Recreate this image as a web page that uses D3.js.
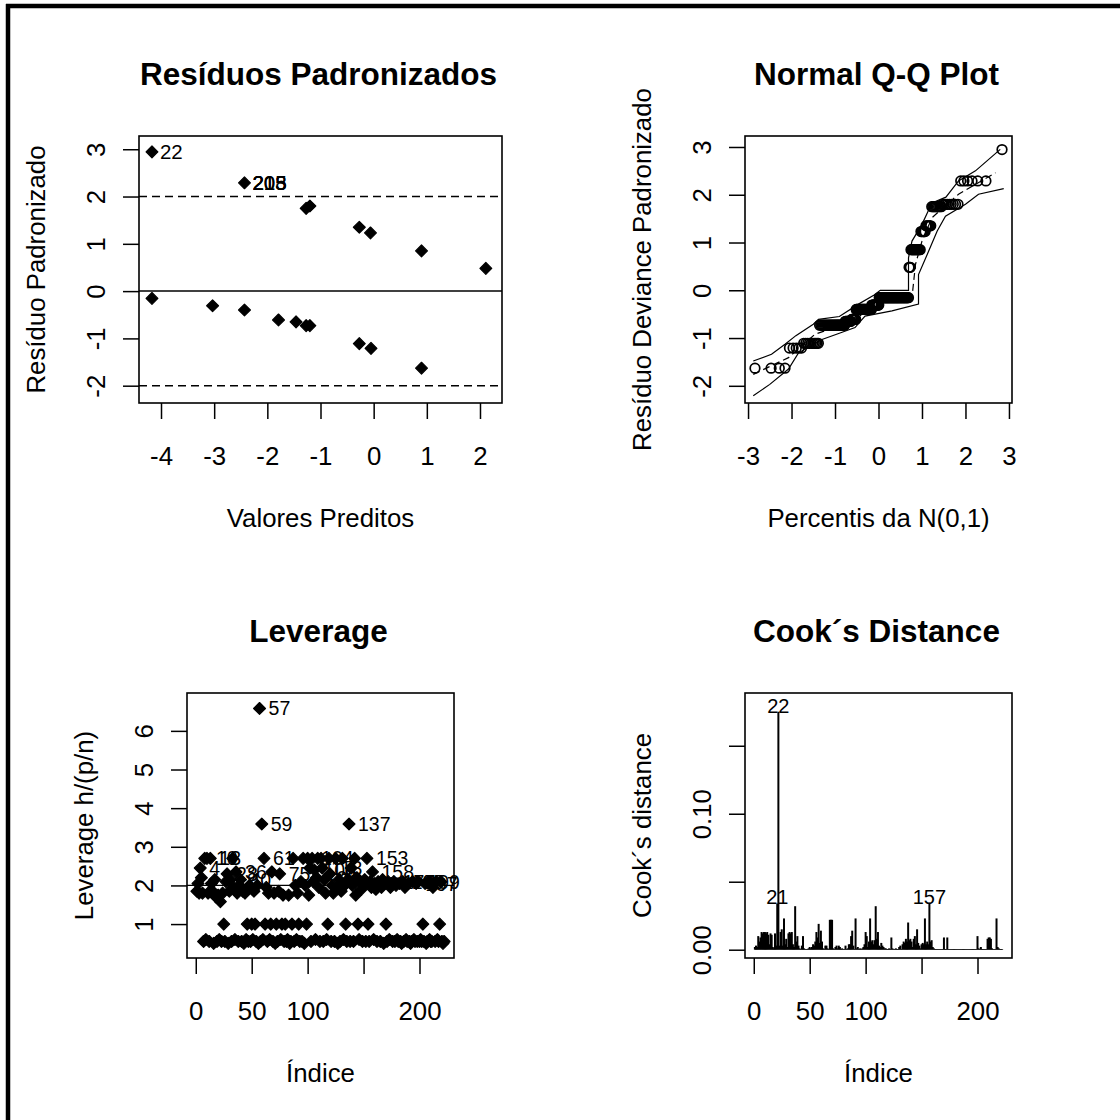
<!DOCTYPE html>
<html>
<head>
<meta charset="utf-8">
<script src="https://cdn.jsdelivr.net/npm/d3@7"></script>
<style>
  body { margin: 0; background: #fff; }
  text { font-family: "Liberation Sans", Arial, sans-serif; fill: #000; }
</style>
</head>
<body>
<svg id="chart" width="1120" height="1120"></svg>
<script>
// ---- panel 1: standardized residuals vs fitted values
const fittedVals = [-4.17, -2.43, -1.27, -1.20, -0.27, -0.06, 0.90, 2.11,
                    -4.17, -3.03, -2.43, -1.79, -1.46, -1.27, -1.20, -0.27, -0.05, 0.90];
const residVals  = [2.945, 2.29, 1.75, 1.80, 1.35, 1.23, 0.85, 0.48,
                    -0.155, -0.31, -0.40, -0.61, -0.65, -0.73, -0.73, -1.11, -1.21, -1.63];
const residLabelPoint = [0, 1, 1, 1, 1];
const residLabelText  = ["22", "203", "205", "215", "218"];

// ---- panel 2: normal Q-Q with simulated envelope (n = 222)
const qqLevels = [-1.63, -1.21, -1.11, -0.73, -0.65, -0.61, -0.40, -0.31, -0.155,
                  0.48, 0.85, 1.23, 1.35, 1.75, 1.80, 2.29, 2.945];
const qqCounts = [4, 5, 10, 30, 10, 8, 30, 15, 56, 3, 14, 6, 6, 9, 9, 6, 1];
const envUpper = [[-2.88,-1.48],[-2.46,-1.34],[-2.15,-1.13],[-1.9,-0.95],[-1.5,-0.71],[-1.38,-0.61],
                  [-0.9,-0.55],[-0.46,-0.29],[-0.1,-0.1],[0.04,0.0],[0.69,0.0],[0.69,0.68],[0.77,1.03],
                  [1.0,1.38],[1.23,1.83],[1.55,1.95],[1.84,2.29],[2.23,2.5],[2.8,2.95]];
const envMedian = [[-2.88,-1.76],[-2.07,-1.41],[-1.46,-0.92],[-0.54,-0.64],[-0.23,-0.36],[0.3,-0.2],
                   [0.77,-0.15],[0.81,0.19],[0.85,0.54],[1.0,1.03],[1.23,1.52],[1.84,2.01],[2.69,2.46]];
const envLower = [[-2.88,-2.21],[-2.5,-1.97],[-2.07,-1.65],[-1.84,-1.31],[-1.3,-1.03],[-0.9,-0.9],
                  [-0.54,-0.78],[-0.31,-0.54],[0.31,-0.43],[0.92,-0.29],[0.92,0.33],[1.12,0.75],
                  [1.35,1.24],[1.54,1.55],[2.0,1.8],[2.3,2.01],[2.88,2.13]];

// ---- panel 3: leverage h/(p/n) by index 1..222
const leverage = [
  1.85, 2.05, 1.8, 2.45, 2.2, 1.8, 0.55, 2.7, 0.6, 2.7,
  1.8, 0.55, 2.7, 2.05, 1.85, 0.5, 2.15, 1.7, 0.55, 1.75,
  0.6, 1.58, 0.55, 1.8, 1.0, 0.55, 2.1, 2.3, 0.5, 1.85,
  2.15, 0.55, 2.7, 1.95, 0.6, 2.35, 1.8, 0.55, 2.0, 2.15,
  0.55, 1.85, 0.5, 1.8, 0.6, 1.0, 0.55, 2.0, 0.55, 1.0,
  0.6, 1.85, 1.0, 0.55, 2.0, 0.5, 6.58, 0.55, 3.59, 0.6,
  2.7, 1.0, 1.95, 0.55, 1.8, 0.6, 1.0, 2.35, 0.55, 1.8,
  0.5, 1.0, 0.55, 1.85, 2.3, 0.6, 1.0, 1.75, 0.55, 1.0,
  0.55, 0.6, 1.75, 0.5, 0.55, 1.0, 2.7, 0.55, 2.0, 0.6,
  1.8, 1.0, 0.55, 2.1, 0.55, 2.7, 0.5, 2.0, 1.0, 2.7,
  1.75, 2.45, 0.55, 2.7, 2.1, 2.4, 0.6, 2.2, 2.7, 1.95,
  0.55, 2.7, 2.45, 0.55, 2.15, 1.8, 0.6, 1.0, 2.7, 2.3,
  0.55, 2.0, 1.8, 0.55, 2.7, 1.95, 0.5, 2.15, 0.55, 1.85,
  2.7, 0.6, 2.0, 1.0, 0.55, 2.15, 3.59, 0.55, 2.45, 2.0,
  0.55, 2.7, 1.75, 2.2, 1.0, 0.6, 2.1, 1.9, 0.55, 2.0,
  2.15, 0.55, 2.7, 1.0, 0.55, 2.1, 1.95, 2.35, 0.6, 2.05,
  1.9, 0.55, 2.1, 2.0, 0.55, 1.95, 2.15, 0.5, 2.05, 1.0,
  0.55, 2.1, 0.6, 1.95, 2.05, 0.55, 2.1, 0.55, 2.0, 0.6,
  0.55, 2.05, 0.55, 0.5, 2.1, 0.55, 1.95, 0.6, 0.55, 2.05,
  0.55, 0.5, 0.55, 2.1, 0.6, 0.55, 2.05, 0.55, 2.1, 0.55,
  0.6, 0.55, 1.0, 0.55, 2.05, 0.5, 0.55, 2.1, 0.6, 0.55,
  0.55, 1.95, 2.05, 0.55, 2.1, 0.6, 0.55, 1.0, 2.1, 0.55,
  0.5, 0.55
];
const levLabelIdx = [4, 10, 13, 28, 36, 40, 57, 59, 61, 75, 104, 106, 108, 113,
                     137, 153, 158, 177, 185, 197, 199];

// ---- panel 4: Cook's distance by index 1..222
const cooks = [
  0.002, 0.003, 0.002, 0.010, 0.006, 0.009, 0.013, 0.012, 0.013, 0.013,
  0.012, 0.013, 0.011, 0.004, 0.012, 0.011, 0.002, 0.001, 0.012, 0.003,
  0.034, 0.175, 0.003, 0.013, 0.015, 0.003, 0.023, 0.004, 0.008, 0.002,
  0.012, 0.013, 0.012, 0.013, 0.004, 0.002, 0.032, 0.006, 0.010, 0.003,
  0.001, 0.0005, 0.003, 0.010, 0.001, 0.0005, 0.0005, 0.0005, 0.001, 0.002,
  0.001, 0.002, 0.004, 0.003, 0.006, 0.013, 0.009, 0.019, 0.005, 0.014,
  0.006, 0.001, 0.0005, 0.003, 0.003, 0.001, 0.0005, 0.022, 0.022, 0.022,
  0.001, 0.0005, 0.002, 0.003, 0.001, 0.003, 0.002, 0.0005, 0.001, 0.0005,
  0.0005, 0.003, 0.0005, 0.001, 0.004, 0.004, 0.010, 0.014, 0.003, 0.0005,
  0.023, 0.001, 0.002, 0.0005, 0.001, 0.0005, 0.001, 0.002, 0.004, 0.013,
  0.010, 0.002, 0.006, 0.023, 0.006, 0.007, 0.004, 0.007, 0.032, 0.008,
  0.013, 0.003, 0.002, 0.005, 0.003, 0.002, 0.001, 0.001, 0.0005, 0.0005,
  0.001, 0.0005, 0.009, 0.001, 0.0005, 0.0005, 0.001, 0.0005, 0.0005, 0.002,
  0.003, 0.0005, 0.004, 0.006, 0.005, 0.008, 0.006, 0.020, 0.007, 0.008,
  0.006, 0.002, 0.008, 0.010, 0.004, 0.015, 0.005, 0.003, 0.001, 0.004,
  0.005, 0.004, 0.023, 0.004, 0.006, 0.004, 0.0345, 0.006, 0.007, 0.002,
  0.001, 0.0005, 0.0005, 0.0005, 0.0005, 0.0005, 0.0005, 0.0005, 0.0005, 0.009,
  0.0005, 0.0005, 0.009, 0.0005, 0.0005, 0.0005, 0.0005, 0.0005, 0.0005, 0.0005,
  0.0005, 0.0005, 0.0005, 0.0005, 0.0005, 0.0005, 0.0005, 0.0005, 0.0005, 0.0005,
  0.0005, 0.0005, 0.0005, 0.0005, 0.0005, 0.0005, 0.0005, 0.0005, 0.0005, 0.010,
  0.001, 0.0005, 0.002, 0.0005, 0.0005, 0.0005, 0.0005, 0.0005, 0.008, 0.009,
  0.009, 0.008, 0.001, 0.0005, 0.0005, 0.0005, 0.023, 0.002, 0.001, 0.0005,
  0.0005, 0.0005
];
const cookLabelIdx = [21, 22, 157];

const FONT = 25.8;
const svg = d3.select("#chart");

// outer frame (only left and top edges visible in the reference)
svg.append("line").attr("x1", 8).attr("x2", 8).attr("y1", 4).attr("y2", 1120)
  .attr("stroke", "#000").attr("stroke-width", 4.5);
svg.append("line").attr("x1", 6).attr("x2", 1120).attr("y1", 6).attr("y2", 6)
  .attr("stroke", "#000").attr("stroke-width", 4.5);

const diamond = {
  draw(ctx, size) {
    const r = Math.sqrt(size / 2);
    ctx.moveTo(0, -r); ctx.lineTo(r, 0); ctx.lineTo(0, r); ctx.lineTo(-r, 0); ctx.closePath();
  }
};
const diamondPath = d3.symbol().type(diamond).size(70)();

function frame(box, x, y, opt) {
  const gx = svg.append("g").attr("transform", `translate(0,${box.y1})`)
    .call(d3.axisBottom(x).tickValues(opt.xt).tickFormat((d, i) => opt.xl[i])
      .tickSizeInner(16).tickSizeOuter(0).tickPadding(28));
  gx.select(".domain").remove();
  gx.attr("font-size", FONT).attr("font-family", null);
  gx.selectAll("line").attr("stroke-width", 1.5);

  const gy = svg.append("g").attr("transform", `translate(${box.x0},0)`)
    .call(d3.axisLeft(y).tickValues(opt.yt).tickFormat((d, i) => opt.yl[i])
      .tickSizeInner(16).tickSizeOuter(0));
  gy.select(".domain").remove();
  gy.attr("font-size", FONT).attr("font-family", null);
  gy.selectAll("line").attr("stroke-width", 1.5);
  gy.selectAll("text").attr("transform", "rotate(-90)").attr("x", 0).attr("y", -34)
    .attr("dy", null).attr("text-anchor", "middle");

  svg.append("rect").attr("x", box.x0).attr("y", box.y0)
    .attr("width", box.x1 - box.x0).attr("height", box.y1 - box.y0)
    .attr("fill", "none").attr("stroke", "#000").attr("stroke-width", 1.6);

  const cx = (box.x0 + box.x1) / 2, cy = (box.y0 + box.y1) / 2;
  svg.append("text").attr("x", cx - 2).attr("y", box.y0 - 51).attr("text-anchor", "middle")
    .attr("font-size", 31.5).attr("font-weight", "bold").text(opt.title);
  svg.append("text").attr("x", cx).attr("y", box.y1 + 124).attr("text-anchor", "middle")
    .attr("font-size", FONT).text(opt.xTitle);
  svg.append("text").attr("transform", `translate(${box.x0 - 94},${cy}) rotate(-90)`)
    .attr("text-anchor", "middle").attr("font-size", FONT).text(opt.yTitle);
}

function diamonds(g, data, px, py) {
  g.selectAll("path.pt").data(data).enter().append("path")
    .attr("class", "pt")
    .attr("d", diamondPath)
    .attr("transform", (d, i) => `translate(${px(d, i)},${py(d, i)})`)
    .attr("fill", "#000").attr("stroke", "#000").attr("stroke-width", 1.2)
    .attr("stroke-linejoin", "round");
}

// ================= Panel 1 =================
{
  const box = {x0: 139, x1: 502, y0: 136, y1: 403};
  const x = d3.scaleLinear().domain([-4.414, 2.414]).range([box.x0, box.x1]);
  const y = d3.scaleLinear().domain([-2.366, 3.28]).range([box.y1, box.y0]);
  const g = svg.append("g");
  g.append("line").attr("x1", box.x0).attr("x2", box.x1).attr("y1", y(0)).attr("y2", y(0))
    .attr("stroke", "#000").attr("stroke-width", 1.5);
  [2, -2].forEach(v => {
    g.append("line").attr("x1", box.x0).attr("x2", box.x1).attr("y1", y(v)).attr("y2", y(v))
      .attr("stroke", "#000").attr("stroke-width", 1.6).attr("stroke-dasharray", "8,5");
  });
  diamonds(g, fittedVals, d => x(d), (d, i) => y(residVals[i]));
  g.selectAll("text.lbl").data(residLabelPoint).enter().append("text")
    .attr("x", d => x(fittedVals[d]) + 8).attr("y", d => y(residVals[d]))
    .attr("dy", "0.36em").attr("font-size", 20.5)
    .text((d, i) => residLabelText[i]);
  frame(box, x, y, {
    xt: [-4, -3, -2, -1, 0, 1, 2], xl: ["-4", "-3", "-2", "-1", "0", "1", "2"],
    yt: [-2, -1, 0, 1, 2, 3], yl: ["-2", "-1", "0", "1", "2", "3"],
    title: "Resíduos Padronizados", xTitle: "Valores Preditos", yTitle: "Resíduo Padronizado"
  });
}

// ================= Panel 2 =================
function qnorm(p) {
  const a = [-39.69683028665376, 220.9460984245205, -275.9285104469687, 138.3577518672690, -30.66479806614716, 2.506628277459239];
  const b = [-54.47609879822406, 161.5858368580409, -155.6989798598866, 66.80131188771082, -13.28068155288572];
  const c = [-0.007784894002430293, -0.3223964580411365, -2.400758277161838, -2.549732539343734, 4.374664141464968, 2.938163982698783];
  const d = [0.007784695709041462, 0.3224671290700398, 2.445134137142996, 3.754408661907416];
  const pl = 0.02425;
  if (p < pl) {
    const q = Math.sqrt(-2 * Math.log(p));
    return (((((c[0]*q+c[1])*q+c[2])*q+c[3])*q+c[4])*q+c[5]) / ((((d[0]*q+d[1])*q+d[2])*q+d[3])*q+1);
  }
  if (p > 1 - pl) {
    const q = Math.sqrt(-2 * Math.log(1 - p));
    return -(((((c[0]*q+c[1])*q+c[2])*q+c[3])*q+c[4])*q+c[5]) / ((((d[0]*q+d[1])*q+d[2])*q+d[3])*q+1);
  }
  const q = p - 0.5, r = q * q;
  return (((((a[0]*r+a[1])*r+a[2])*r+a[3])*r+a[4])*r+a[5])*q / (((((b[0]*r+b[1])*r+b[2])*r+b[3])*r+b[4])*r+1);
}
{
  const box = {x0: 745, x1: 1012, y0: 136, y1: 403};
  const x = d3.scaleLinear().domain([-3.07, 3.07]).range([box.x0, box.x1]);
  const y = d3.scaleLinear().domain([-2.36, 3.23]).range([box.y1, box.y0]);
  // sorted residuals against normal quantiles (ppoints)
  const sorted = [];
  qqLevels.forEach((v, k) => { for (let j = 0; j < qqCounts[k]; j++) sorted.push(v); });
  const n = sorted.length;
  const qq = sorted.map((v, i) => ({q: qnorm((i + 0.5) / n), r: v}));
  const g = svg.append("g");
  const line = d3.line().x(d => x(d[0])).y(d => y(d[1]));
  g.append("path").datum(envUpper).attr("d", line).attr("fill", "none").attr("stroke", "#000").attr("stroke-width", 1.2);
  g.append("path").datum(envLower).attr("d", line).attr("fill", "none").attr("stroke", "#000").attr("stroke-width", 1.2);
  g.append("path").datum(envMedian).attr("d", line).attr("fill", "none").attr("stroke", "#000")
    .attr("stroke-width", 1.2).attr("stroke-dasharray", "7,4");
  g.selectAll("circle").data(qq).enter().append("circle")
    .attr("cx", d => x(d.q)).attr("cy", d => y(d.r)).attr("r", 4.8)
    .attr("fill", "none").attr("stroke", "#000").attr("stroke-width", 1.7);
  frame(box, x, y, {
    xt: [-3, -2, -1, 0, 1, 2, 3], xl: ["-3", "-2", "-1", "0", "1", "2", "3"],
    yt: [-2, -1, 0, 1, 2, 3], yl: ["-2", "-1", "0", "1", "2", "3"],
    title: "Normal Q-Q Plot", xTitle: "Percentis da N(0,1)", yTitle: "Resíduo Deviance Padronizado"
  });
}

// ================= Panel 3 =================
{
  const box = {x0: 187, x1: 454, y0: 693, y1: 958};
  const x = d3.scaleLinear().domain([-7.84, 230.84]).range([box.x0, box.x1]);
  const y = d3.scaleLinear().domain([0.122, 6.98]).range([box.y1, box.y0]);
  const g = svg.append("g");
  g.append("line").attr("x1", box.x0).attr("x2", box.x1).attr("y1", y(2)).attr("y2", y(2))
    .attr("stroke", "#000").attr("stroke-width", 1.3);
  diamonds(g, leverage, (d, i) => x(i + 1), d => y(d));
  g.selectAll("text.lbl").data(levLabelIdx).enter().append("text")
    .attr("x", d => x(d) + 9).attr("y", d => y(leverage[d - 1])).attr("dy", "0.36em")
    .attr("font-size", 19.5).text(d => d);
  frame(box, x, y, {
    xt: [0, 50, 100, 150, 200], xl: ["0", "50", "100", "", "200"],
    yt: [1, 2, 3, 4, 5, 6], yl: ["1", "2", "3", "4", "5", "6"],
    title: "Leverage", xTitle: "Índice", yTitle: "Leverage h/(p/n)"
  });
}

// ================= Panel 4 =================
{
  const box = {x0: 745, x1: 1012, y0: 693, y1: 958};
  const x = d3.scaleLinear().domain([-7.84, 230.84]).range([box.x0, box.x1]);
  const y = d3.scaleLinear().domain([-0.0061, 0.1888]).range([box.y1, box.y0]);
  const g = svg.append("g");
  g.selectAll("line.spk").data(cooks).enter().append("line")
    .attr("x1", (d, i) => x(i + 1)).attr("x2", (d, i) => x(i + 1))
    .attr("y1", y(0)).attr("y2", d => y(d))
    .attr("stroke", "#000").attr("stroke-width", 2);
  g.selectAll("text.lbl").data(cookLabelIdx).enter().append("text")
    .attr("x", d => x(d)).attr("y", d => y(cooks[d - 1]) + 1)
    .attr("text-anchor", "middle").attr("font-size", 20).text(d => d);
  frame(box, x, y, {
    xt: [0, 50, 100, 150, 200], xl: ["0", "50", "100", "", "200"],
    yt: [0, 0.05, 0.10, 0.15], yl: ["0.00", "", "0.10", ""],
    title: "Cook´s Distance", xTitle: "Índice", yTitle: "Cook´s distance"
  });
}
</script>
</body>
</html>
